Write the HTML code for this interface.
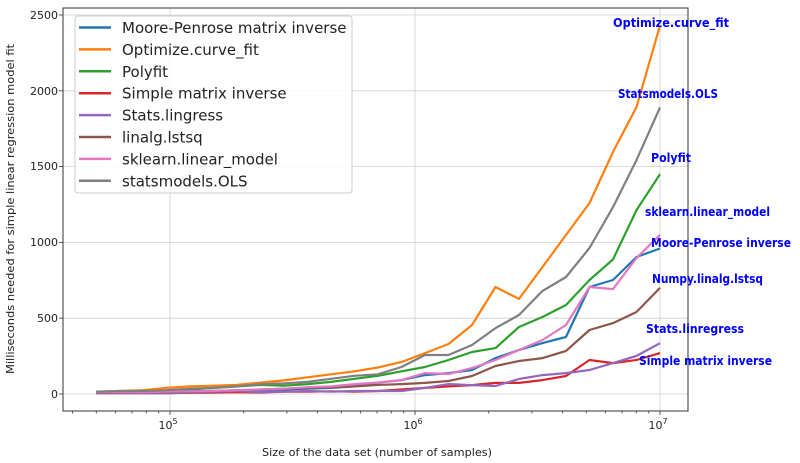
<!DOCTYPE html>
<html><head><meta charset="utf-8"><style>body{margin:0;background:#fff}svg{display:block}</style></head><body>
<svg id="s" width="800" height="463" xmlns="http://www.w3.org/2000/svg" font-family="DejaVu Sans, sans-serif">
<rect x="63" y="8" width="625" height="403" fill="#fff"/>
<g id="grid" stroke="#d0d0d0" stroke-width="0.8"></g>
<g id="ticks" stroke="#333" stroke-width="0.8"></g>
<g id="lines" fill="none" stroke-width="2.2" stroke-linejoin="round"></g>
<rect x="63" y="8" width="625" height="403" fill="none" stroke="#333" stroke-width="1"/>
<g font-size="11" fill="#222" text-anchor="end">
<text x="58" y="398">0</text><text x="58" y="322">500</text><text x="58" y="246">1000</text><text x="58" y="170">1500</text><text x="58" y="95">2000</text><text x="58" y="19">2500</text>
</g>
<g font-size="11" fill="#222" text-anchor="middle">
<text x="168" y="429">10<tspan font-size="8" dy="-5">5</tspan></text>
<text x="413" y="429">10<tspan font-size="8" dy="-5">6</tspan></text>
<text x="658" y="429">10<tspan font-size="8" dy="-5">7</tspan></text>
</g>
<text x="262" y="456" font-size="11" fill="#222" textLength="230" lengthAdjust="spacingAndGlyphs">Size of the data set (number of samples)</text>
<text transform="translate(14,374) rotate(-90)" font-size="11" fill="#222" textLength="330" lengthAdjust="spacingAndGlyphs">Milliseconds needed for simple linear regression model fit</text>
<rect x="75" y="16" width="277" height="177" rx="3" fill="#fff" fill-opacity="0.85" stroke="#ccc"/>
<g id="leg" font-size="15" fill="#222"></g>
<g font-family="DejaVu Sans, sans-serif" font-size="12" font-weight="bold" fill="#0000ff" lengthAdjust="spacingAndGlyphs">
<text x="613" y="27" textLength="116" lengthAdjust="spacingAndGlyphs">Optimize.curve_fit</text>
<text x="618" y="98" textLength="100" lengthAdjust="spacingAndGlyphs">Statsmodels.OLS</text>
<text x="651" y="162" textLength="40" lengthAdjust="spacingAndGlyphs">Polyfit</text>
<text x="645" y="216" textLength="125" lengthAdjust="spacingAndGlyphs">sklearn.linear_model</text>
<text x="651" y="247" textLength="140" lengthAdjust="spacingAndGlyphs">Moore-Penrose inverse</text>
<text x="652" y="283" textLength="111" lengthAdjust="spacingAndGlyphs">Numpy.linalg.lstsq</text>
<text x="646" y="333" textLength="98" lengthAdjust="spacingAndGlyphs">Stats.linregress</text>
<text x="639" y="365" textLength="133" lengthAdjust="spacingAndGlyphs">Simple matrix inverse</text>
</g>
</svg>
<script>
var ns="http://www.w3.org/2000/svg";
function el(p,t,a,txt){var e=document.createElementNS(ns,t);for(var k in a)e.setAttribute(k,a[k]);if(txt)e.textContent=txt;document.getElementById(p).appendChild(e);return e;}
function X(v){return 170+245*(Math.log10(v)-5);}
for(var i=0;i<=5;i++){var y=394-i*75.8;el('grid','line',{x1:63,x2:688,y1:y,y2:y});el('ticks','line',{x1:59,x2:63,y1:y,y2:y});}
[1e5,1e6,1e7].forEach(function(v){var x=X(v);el('grid','line',{x1:x,x2:x,y1:8,y2:411});el('ticks','line',{x1:x,x2:x,y1:411,y2:415});});
for(var d=4;d<=6;d++)for(var m=2;m<=9;m++){var x=X(m*Math.pow(10,d));if(x>63&&x<688)el('ticks','line',{x1:x,x2:x,y1:411,y2:413.5});}
var L=[
["Moore-Penrose matrix inverse","#1f77b4",[12,10,12,15,18,20,22,25,30,35,40,50,75,92,125,138,158,237,290,336,376,706,752,904,960]],
["Optimize.curve_fit","#ff7f0e",[15,20,25,40,50,55,60,75,90,110,130,150,175,211,270,330,455,706,627,838,1049,1260,1596,1893,2430]],
["Polyfit","#2ca02c",[15,15,20,20,30,40,50,60,55,65,80,100,120,150,178,224,277,303,442,508,587,752,888,1213,1450]],
["Simple matrix inverse","#d62728",[5,5,5,5,8,10,12,10,15,15,18,15,20,30,40,50,59,73,73,92,119,224,204,224,270]],
["Stats.lingress","#9467bd",[5,5,5,5,10,15,20,12,15,20,15,20,20,20,40,65,59,53,99,125,138,158,204,251,335]],
["linalg.lstsq","#8c564b",[10,10,12,12,15,20,25,30,35,40,45,50,60,65,73,86,119,185,218,237,284,422,468,541,700]],
["sklearn.linear_model","#e377c2",[12,12,12,15,18,20,25,30,35,45,50,65,75,92,138,132,171,224,290,356,455,706,692,897,1050]],
["statsmodels.OLS","#7f7f7f",[15,20,20,25,35,40,50,65,70,80,100,120,130,178,257,257,323,435,521,680,772,963,1233,1543,1890]]];
L.forEach(function(s,k){
  var pts=s[2].map(function(v,i){return (96+23.5*i).toFixed(1)+","+(394-v*0.1516).toFixed(1);}).join(" ");
  el('lines','polyline',{points:pts,stroke:s[1]});
  var y=27.5+k*21.9;
  el('leg','line',{x1:79,x2:111,y1:y,y2:y,stroke:s[1],'stroke-width':2.5});
  el('leg','text',{x:122,y:y+5.5},s[0]);
});
</script>
</body></html>
